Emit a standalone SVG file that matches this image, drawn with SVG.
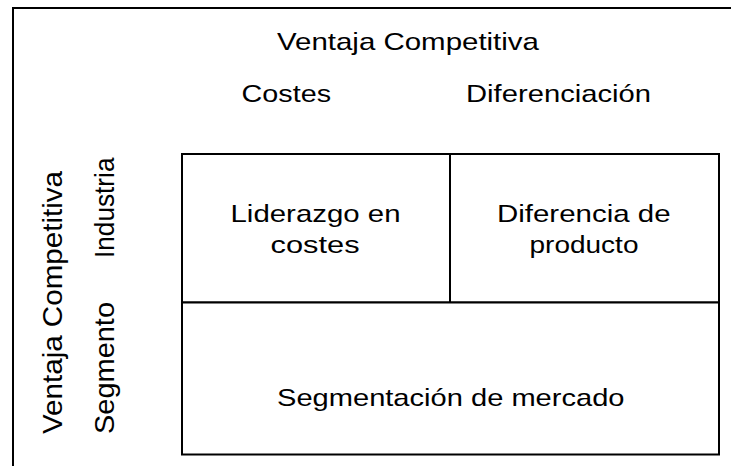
<svg xmlns="http://www.w3.org/2000/svg" width="731" height="466" viewBox="0 0 731 466">
<style>
  .t { font-family: "Liberation Sans", Arial, sans-serif; font-size: 24px; fill: #000; }
  .v { font-family: "Liberation Sans", Arial, sans-serif; font-size: 28px; fill: #000; }
  .ln { stroke: #000; stroke-width: 2; fill: none; }
  .cell { stroke: #000; stroke-width: 2; fill: #fff; }
</style>
<rect x="0" y="0" width="731" height="466" fill="#fff"/>
<g id="frame">
  <line class="ln" x1="12" y1="8" x2="731" y2="8"/>
  <line class="ln" x1="13" y1="7" x2="13" y2="466"/>
</g>
<g id="header">
  <text class="t" transform="translate(277,49.5) scale(1.2,1)" textLength="218.3" lengthAdjust="spacingAndGlyphs">Ventaja Competitiva</text>
  <text class="t" transform="translate(241.5,101.7) scale(1.2,1)" textLength="74.6" lengthAdjust="spacingAndGlyphs">Costes</text>
  <text class="t" transform="translate(466,101.7) scale(1.2,1)" textLength="154.2" lengthAdjust="spacingAndGlyphs">Diferenciación</text>
</g>
<g id="side-labels">
  <text class="v" transform="translate(61.5,434) rotate(-90)" textLength="263" lengthAdjust="spacingAndGlyphs">Ventaja Competitiva</text>
  <text class="v" transform="translate(113.5,258) rotate(-90)" textLength="100.5" lengthAdjust="spacingAndGlyphs">Industria</text>
  <text class="v" transform="translate(113.5,434) rotate(-90)" textLength="132" lengthAdjust="spacingAndGlyphs">Segmento</text>
</g>
<g id="connectors"></g>
<g id="cell-liderazgo">
  <rect class="cell" x="182" y="154" width="268" height="148.5"/>
  <text class="t" transform="translate(230.5,221.7) scale(1.2,1)" textLength="141.7" lengthAdjust="spacingAndGlyphs">Liderazgo en</text>
  <text class="t" transform="translate(270.5,253.3) scale(1.2,1)" textLength="74.2" lengthAdjust="spacingAndGlyphs">costes</text>
</g>
<g id="cell-diferencia">
  <rect class="cell" x="450" y="154" width="269" height="148.5"/>
  <text class="t" transform="translate(497,221.7) scale(1.2,1)" textLength="144.6" lengthAdjust="spacingAndGlyphs">Diferencia de</text>
  <text class="t" transform="translate(529.5,253.3) scale(1.2,1)" textLength="90.8" lengthAdjust="spacingAndGlyphs">producto</text>
</g>
<g id="cell-segmentacion">
  <rect class="cell" x="182" y="302.5" width="537" height="152"/>
  <text class="t" transform="translate(277,406) scale(1.2,1)" textLength="289.6" lengthAdjust="spacingAndGlyphs">Segmentación de mercado</text>
</g>
</svg>
